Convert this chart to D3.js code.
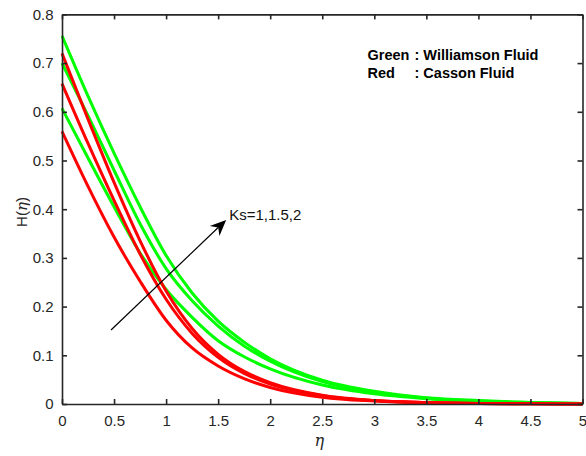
<!DOCTYPE html>
<html>
<head>
<meta charset="utf-8">
<script src="https://cdn.jsdelivr.net/npm/d3@7"></script>
<style>
  html, body { margin: 0; padding: 0; background: #ffffff; }
  svg { display: block; }
</style>
</head>
<body>
<svg id="chart" width="586" height="456"></svg>
<script>
// ---- data ----
const eta = [0, 0.25, 0.5, 0.75, 1, 1.25, 1.5, 1.75, 2, 2.5, 3, 3.5, 4, 4.5, 5];

// Williamson fluid (green), Ks = 1, 1.5, 2
const greenKs1 = [0.607, 0.505, 0.405, 0.310, 0.235, 0.178, 0.130, 0.097, 0.072, 0.039, 0.021, 0.011, 0.005, 0.002, 0.0005];
const greenKs15 = [0.700, 0.592, 0.480, 0.370, 0.278, 0.212, 0.160, 0.119, 0.088, 0.046, 0.024, 0.012, 0.006, 0.003, 0.001];
const greenKs2 = [0.756, 0.632, 0.515, 0.405, 0.305, 0.228, 0.170, 0.127, 0.093, 0.049, 0.026, 0.013, 0.007, 0.003, 0.001];

// Casson fluid (red), Ks = 1, 1.5, 2
const redKs1 = [0.560, 0.447, 0.343, 0.252, 0.172, 0.115, 0.078, 0.052, 0.034, 0.014, 0.006, 0.002, 0.001, 0.0003, 0];
const redKs15 = [0.658, 0.535, 0.418, 0.308, 0.215, 0.145, 0.096, 0.063, 0.041, 0.017, 0.007, 0.003, 0.001, 0.0005, 0];
const redKs2 = [0.720, 0.585, 0.455, 0.335, 0.232, 0.155, 0.102, 0.067, 0.044, 0.018, 0.007, 0.003, 0.001, 0.0005, 0];

const xTicks = [0, 0.5, 1, 1.5, 2, 2.5, 3, 3.5, 4, 4.5, 5];
const yTicks = [0, 0.1, 0.2, 0.3, 0.4, 0.5, 0.6, 0.7, 0.8];
const xTickLabels = ["0", "0.5", "1", "1.5", "2", "2.5", "3", "3.5", "4", "4.5", "5"];
const yTickLabels = ["0", "0.1", "0.2", "0.3", "0.4", "0.5", "0.6", "0.7", "0.8"];

const legendLines = [
  { name: "Green", desc: ": Williamson Fluid" },
  { name: "Red", desc: ": Casson Fluid" }
];
const annotationText = "Ks=1,1.5,2";
const arrowFrom = [0.471, 0.152];
const arrowTo = [1.577, 0.378];

// ---- layout ----
const svg = d3.select("#chart");
const L = 62, R = 582.5, T = 14.4, B = 404;
const x = d3.scaleLinear().domain([0, 5]).range([L, R]);
const y = d3.scaleLinear().domain([0, 0.8]).range([B, T]);
const axisColor = "#262626";
const font = "'Liberation Sans', Arial, Helvetica, sans-serif";

svg.append("rect").attr("width", 586).attr("height", 456).attr("fill", "#fff");

// curves
const line = d3.line()
  .x((d, i) => x(eta[i]))
  .y(d => y(d))
  .curve(d3.curveMonotoneX);

const plot = svg.append("g");
const series = [
  { v: greenKs2, c: "#00ff00" },
  { v: greenKs15, c: "#00ff00" },
  { v: greenKs1, c: "#00ff00" },
  { v: redKs2, c: "#ff0000" },
  { v: redKs15, c: "#ff0000" },
  { v: redKs1, c: "#ff0000" }
];
series.forEach(s => {
  plot.append("path")
    .datum(s.v)
    .attr("d", line)
    .attr("fill", "none")
    .attr("stroke", s.c)
    .attr("stroke-width", 3)
    .attr("stroke-linejoin", "round");
});

// axes (inward ticks, box)
const tickLen = 5;
const xAxisB = d3.axisBottom(x).tickValues(xTicks).tickSizeInner(-tickLen).tickSizeOuter(0)
  .tickPadding(11.5).tickFormat((d, i) => xTickLabels[i]);
const xAxisT = d3.axisTop(x).tickValues(xTicks).tickSizeInner(-tickLen).tickSizeOuter(0).tickFormat("");
const yAxisL = d3.axisLeft(y).tickValues(yTicks).tickSizeInner(-tickLen).tickSizeOuter(0)
  .tickPadding(8.5).tickFormat((d, i) => yTickLabels[i]);
const yAxisR = d3.axisRight(y).tickValues(yTicks).tickSizeInner(-tickLen).tickSizeOuter(0).tickFormat("");

function styleAxis(g) {
  g.selectAll("path.domain").attr("stroke", axisColor).attr("stroke-width", 1.6);
  g.selectAll(".tick line").attr("stroke", axisColor).attr("stroke-width", 1.6);
  g.selectAll(".tick text").attr("fill", axisColor).style("font-family", font).style("font-size", "15px");
}
svg.append("g").attr("transform", `translate(0,${B})`).call(xAxisB).call(styleAxis);
svg.append("g").attr("transform", `translate(0,${T})`).call(xAxisT).call(styleAxis);
svg.append("g").attr("transform", `translate(${L},0)`).call(yAxisL).call(styleAxis);
svg.append("g").attr("transform", `translate(${R},0)`).call(yAxisR).call(styleAxis);

// axis labels
svg.append("text")
  .attr("x", (L + R) / 2 - 3).attr("y", 446)
  .attr("text-anchor", "middle")
  .style("font-family", "'DejaVu Serif', 'Liberation Serif', serif")
  .style("font-style", "italic")
  .style("font-size", "16px")
  .attr("fill", axisColor)
  .text("η");

const yl = svg.append("text")
  .attr("transform", `translate(27,212) rotate(-90)`)
  .attr("text-anchor", "middle")
  .style("font-family", font)
  .style("font-size", "15px")
  .attr("fill", axisColor);
yl.append("tspan").text("H(");
yl.append("tspan").style("font-family", "'DejaVu Serif', 'Liberation Serif', serif").style("font-style", "italic").text("η");
yl.append("tspan").text(")");

// legend text
legendLines.forEach((d, i) => {
  const yy = 60 + i * 18;
  svg.append("text").attr("x", 367.5).attr("y", yy)
    .style("font-family", font).style("font-weight", "bold").style("font-size", "14.5px")
    .attr("fill", "#000").text(d.name);
  svg.append("text").attr("x", 414.5).attr("y", yy)
    .style("font-family", font).style("font-weight", "bold").style("font-size", "14.5px")
    .attr("fill", "#000").text(d.desc);
});

// annotation arrow
const x1 = x(arrowFrom[0]), y1 = y(arrowFrom[1]);
const x2 = x(arrowTo[0]), y2 = y(arrowTo[1]);
const ang = Math.atan2(y2 - y1, x2 - x1);
const headLen = 16, headW = 7, notch = 5;
svg.append("line")
  .attr("x1", x1).attr("y1", y1)
  .attr("x2", x2 - (headLen - notch) * Math.cos(ang)).attr("y2", y2 - (headLen - notch) * Math.sin(ang))
  .attr("stroke", "#000").attr("stroke-width", 1.2);
const bx = x2 - headLen * Math.cos(ang), by = y2 - headLen * Math.sin(ang);
const nx = x2 - (headLen - notch) * Math.cos(ang), ny = y2 - (headLen - notch) * Math.sin(ang);
const px = -Math.sin(ang), py = Math.cos(ang);
svg.append("path")
  .attr("d", `M${x2},${y2} L${bx + px * headW},${by + py * headW} L${nx},${ny} L${bx - px * headW},${by - py * headW} Z`)
  .attr("fill", "#000");

svg.append("text")
  .attr("x", x(arrowTo[0]) + 3).attr("y", y(arrowTo[1]) + 0)
  .style("font-family", font).style("font-size", "15px")
  .attr("fill", "#111")
  .text(annotationText);
</script>
</body>
</html>
